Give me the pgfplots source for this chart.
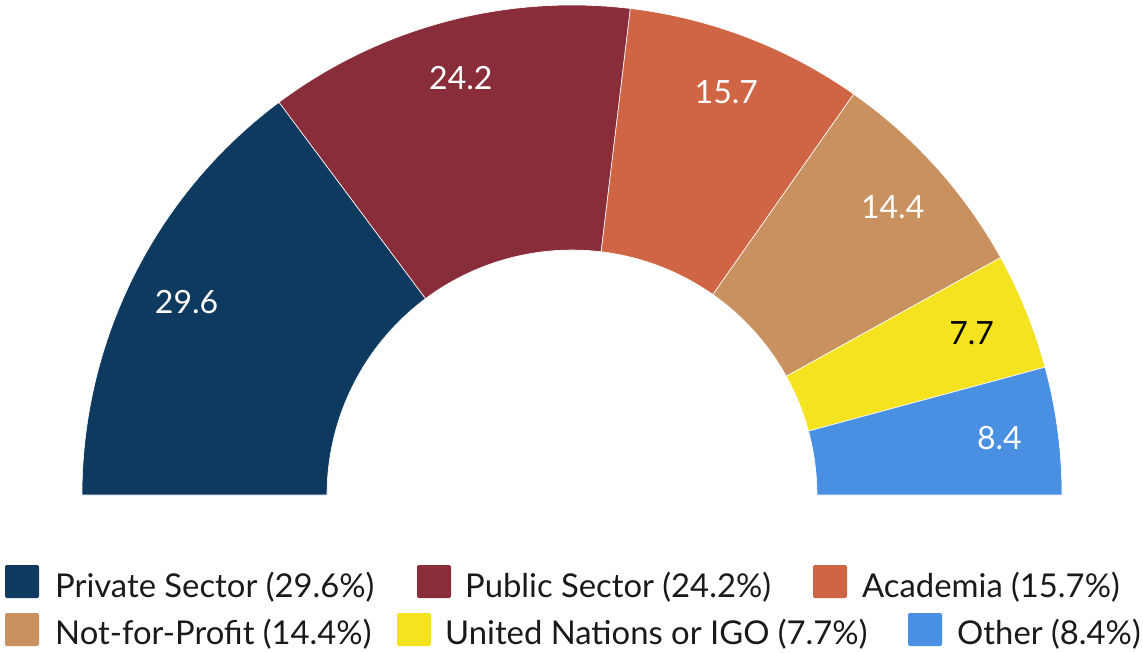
\documentclass[border=0pt]{standalone}
\usepackage{fontspec}
\setmainfont{Lato}
\usepackage{pgfplots}
\usepackage{pgfplotstable}
\pgfplotsset{compat=1.18}

\definecolor{seg0}{HTML}{0F3A5F}
\definecolor{seg1}{HTML}{8A2D3B}
\definecolor{seg2}{HTML}{D06545}
\definecolor{seg3}{HTML}{C9915F}
\definecolor{seg4}{HTML}{F5E31F}
\definecolor{seg5}{HTML}{4A90E2}
\definecolor{legtext}{HTML}{1A1A1A}

% share of respondents by sector, in percent
\pgfplotstableread[col sep=comma]{
name,value,txt
Private Sector,29.6,white
Public Sector,24.2,white
Academia,15.7,white
Not-for-Profit,14.4,white
United Nations or IGO,7.7,black
Other,8.4,white
}\sectors

% start, end and middle angle of each segment (180 deg = 100 %)
\def\cum{180}
\pgfplotsforeachungrouped \i in {0,1,2,3,4,5}{%
  \pgfplotstablegetelem{\i}{value}\of\sectors
  \expandafter\xdef\csname val\i\endcsname{\pgfplotsretval}%
  \pgfmathsetmacro\tmpend{\cum-1.8*\pgfplotsretval}%
  \pgfmathsetmacro\tmpmid{(\cum+\tmpend)/2}%
  \expandafter\xdef\csname sa\i\endcsname{\cum}%
  \expandafter\xdef\csname ea\i\endcsname{\tmpend}%
  \expandafter\xdef\csname mid\i\endcsname{\tmpmid}%
  \xdef\cum{\tmpend}%
  \pgfplotstablegetelem{\i}{txt}\of\sectors
  \colorlet{tc\i}{\pgfplotsretval}%
}

\begin{document}
\begin{tikzpicture}
\begin{axis}[
    at={(82pt,-495pt)}, anchor=south west,
    scale only axis, width=980pt, height=490pt,
    xmin=-1, xmax=1, ymin=0, ymax=1,
    hide axis, clip=false,
]
\pgfplotsinvokeforeach{0,1,2,3,4,5}{
  \fill[seg#1, draw=white, line width=0.6pt]
    (axis cs:{cos(\csname sa#1\endcsname)},{sin(\csname sa#1\endcsname)})
    arc[start angle=\csname sa#1\endcsname, end angle=\csname ea#1\endcsname, radius=490pt]
    -- (axis cs:{0.5*cos(\csname ea#1\endcsname)},{0.5*sin(\csname ea#1\endcsname)})
    arc[start angle=\csname ea#1\endcsname, end angle=\csname sa#1\endcsname, radius=245pt]
    -- cycle;
  \node[text=tc#1, font=\fontsize{32}{38}\selectfont]
    at (axis cs:{0.88*cos(\csname mid#1\endcsname)},{0.88*sin(\csname mid#1\endcsname)})
    {\csname val#1\endcsname};
}
\end{axis}

% legend, laid out in two rows as in the original
\begin{scope}[x=1pt,y=-1pt]
\foreach \sx/\sy/\tx/\by/\c/\t in {
    5/565/55/597/seg0/Private Sector (29.6\%),
    417/565/465/597/seg1/Public Sector (24.2\%),
    813/565/862/597/seg2/Academia (15.7\%),
    5/613/55/644/seg3/Not-for-Profit (14.4\%),
    397/613/445/644/seg4/United Nations or IGO (7.7\%),
    908/613/957/644/seg5/Other (8.4\%)}{
  \fill[\c, rounded corners=2pt] (\sx,\sy) rectangle ++(34,33);
  \node[anchor=base west, inner sep=0pt, text=legtext,
        font=\fontsize{32.8}{38}\selectfont] at (\tx,\by) {\t};
}
\pgfresetboundingbox
\path (0,0) rectangle (1143,653);
\end{scope}
\end{tikzpicture}
\end{document}
